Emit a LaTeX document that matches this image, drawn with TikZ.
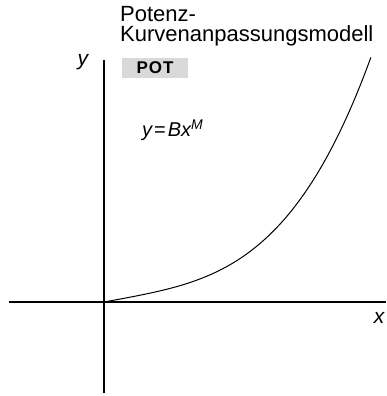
\documentclass[tikz,border=0pt]{standalone}
\usepackage{fontspec}
\setmainfont{Liberation Sans}
\usepackage{tikz}
\usetikzlibrary{calc,positioning}

\begin{document}
\begin{tikzpicture}[x=1pt,y=1pt,
    axis/.style={line width=1.5pt},
    lbl/.style={inner sep=0pt,anchor=base,font=\fontsize{21}{21}\selectfont\itshape},
    ttl/.style={inner sep=0pt,anchor=base west,font=\fontsize{22}{22}\selectfont}]
    \useasboundingbox (-104,-94) rectangle (283,302);
    \coordinate (O) at (0,0);
    \coordinate (L) at (-95,0);
    \coordinate (R) at (282,0);
    \coordinate (T) at (0,242);
    \coordinate (D) at (0,-91);
    \draw[axis] (L)--(R);
    \draw[axis] (D)--(T);
    % power curve y = B x^M
    \draw[line width=1pt] (O) -- plot[domain=0.005:1,samples=80,smooth]
        ({267*\x},{245*(0.2*\x+0.8*\x^3.5)});

    \node[lbl] (ylab) at (-21,236) {y};
    \node[lbl] (xlab) at (275,-21) {x};
    \node[inner sep=0pt,anchor=base west,font=\fontsize{20}{20}\selectfont\itshape] (eq) at (38,165)
        {y\kern2pt\upshape=\kern2pt\itshape Bx\textsuperscript{M}};
    \node[ttl] (title1) at (16,280.5) {Potenz-};
    \node[ttl] (title2) at (16,260) {Kurvenanpassungsmodell};
    \node[fill=gray!30,minimum width=66pt,minimum height=20pt,inner sep=0pt,
        font=\fontsize{17}{17}\selectfont\bfseries] (key) at (51,234) {P\kern1pt O\kern1pt T};
\end{tikzpicture}
\end{document}
